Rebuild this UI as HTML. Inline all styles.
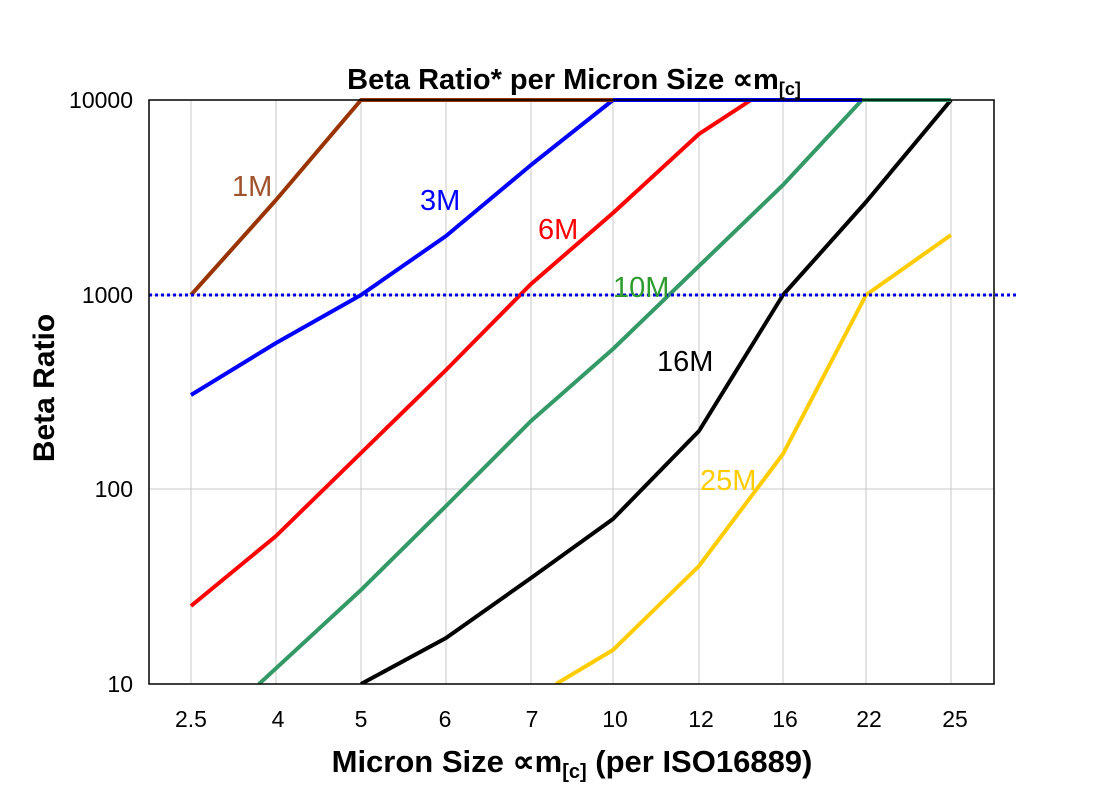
<!DOCTYPE html>
<html><head><style>body{margin:0;background:#fff}</style></head><body>
<svg width="1106" height="802" xmlns="http://www.w3.org/2000/svg" font-family="Liberation Sans, Arial, sans-serif">
<rect width="1106" height="802" fill="#fff"/>
<g stroke="#c8c8c8" stroke-width="1">
<line x1="149" y1="295" x2="994" y2="295"/><line x1="149" y1="489" x2="994" y2="489"/>
<line x1="191" y1="100" x2="191" y2="684"/><line x1="276" y1="100" x2="276" y2="684"/><line x1="361" y1="100" x2="361" y2="684"/><line x1="446" y1="100" x2="446" y2="684"/><line x1="531" y1="100" x2="531" y2="684"/><line x1="613" y1="100" x2="613" y2="684"/><line x1="699" y1="100" x2="699" y2="684"/><line x1="783" y1="100" x2="783" y2="684"/><line x1="866" y1="100" x2="866" y2="684"/><line x1="951" y1="100" x2="951" y2="684"/>
</g>
<svg x="149" y="98" width="845" height="586" overflow="hidden">
<g transform="translate(-149,-98)" fill="none" stroke-width="4" stroke-linejoin="round">
<polyline stroke="#ffcc00" points="556,684 613,650 699,566 783,454 866,295 951,235"/>
<polyline stroke="#000" points="361,684 446,638 531,578 613,519 699,431 783,295 866,202 951,100"/>
<polyline stroke="#339966" points="259,684 361,590 446,506 531,421 613,349 699,266 783,185 862,100 951,100"/>
<polyline stroke="#ff0000" points="191,606 276,536 361,453 446,370 531,284 613,213 699,134 751,100 862,100"/>
<polyline stroke="#0000ff" points="191,395 276,343 361,295 446,236 531,165 613,100 862,100"/>
<polyline stroke="#993300" points="191,295 276,200 361,100 613,100"/>
</g></svg>
<line x1="149" y1="295" x2="1018" y2="295" stroke="#0000e0" stroke-width="3" stroke-dasharray="3,3"/>
<rect x="149" y="100" width="845" height="584" fill="none" stroke="#000" stroke-width="1.5"/>
<g font-size="29">
<text x="232" y="196" fill="#a0522d">1M</text>
<text x="420" y="210" fill="#0000ff">3M</text>
<text x="538" y="239" fill="#ff0000">6M</text>
<text x="613" y="297" fill="#2e9b2e">10M</text>
<text x="657" y="371" fill="#000">16M</text>
<text x="700" y="490" fill="#ffcc00">25M</text>
</g>
<g font-size="23" text-anchor="end">
<text x="133" y="108">10000</text><text x="133" y="303">1000</text><text x="133" y="497">100</text><text x="133" y="692">10</text>
</g>
<g font-size="23" text-anchor="middle">
<text x="191" y="727">2.5</text><text x="278" y="727">4</text><text x="361" y="727">5</text><text x="445" y="727">6</text><text x="532" y="727">7</text><text x="615" y="727">10</text><text x="701" y="727">12</text><text x="785" y="727">16</text><text x="869" y="727">22</text><text x="955" y="727">25</text>
</g>
<text x="572" y="772" font-size="31" font-weight="bold" text-anchor="middle">Micron Size ∝m<tspan font-size="20" dy="6">[c]</tspan><tspan dy="-6"> (per ISO16889)</tspan></text>
<text x="574" y="89" font-size="29" font-weight="bold" text-anchor="middle">Beta Ratio* per Micron Size ∝m<tspan font-size="18" dy="6">[c]</tspan></text>
<text transform="translate(54,388) rotate(-90)" font-size="30" font-weight="bold" text-anchor="middle">Beta Ratio</text>
</svg>
</body></html>
